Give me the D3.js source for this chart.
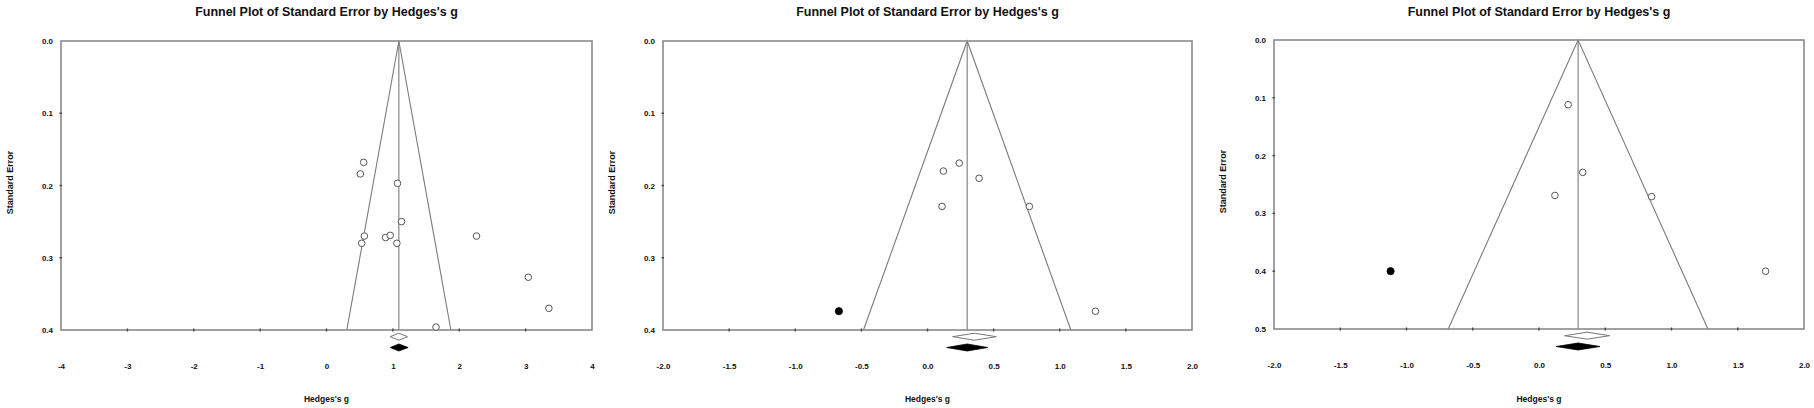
<!DOCTYPE html>
<html>
<head>
<meta charset="utf-8">
<script src="https://cdn.jsdelivr.net/npm/d3@7/dist/d3.min.js"></script>
<style>
  html, body { margin: 0; padding: 0; background: #fff; }
  svg { display: block; font-family: "Liberation Sans", Arial, sans-serif; }
</style>
</head>
<body>
<svg id="chart" width="1814" height="408"></svg>
<script>
// ---------- DATA ----------
const titleText = "Funnel Plot of Standard Error by Hedges's g";
const xLabelText = "Hedges's g";
const yLabelText = "Standard Error";

// Panel 1
const p1_g  = [0.56, 0.51, 1.07, 1.13, 0.57, 0.53, 0.89, 0.96, 1.06, 2.26, 3.04, 3.35, 1.65];
const p1_se = [0.168, 0.184, 0.197, 0.25, 0.27, 0.28, 0.272, 0.269, 0.28, 0.27, 0.327, 0.37, 0.396];
const p1_imp_g  = [];
const p1_imp_se = [];
const p1_center = 1.09;
const p1_observed = [0.96, 1.09, 1.22];
const p1_adjusted = [0.96, 1.09, 1.23];
const p1_xDomain = [-4, 4];
const p1_yDomain = [0, 0.4];
const p1_xTicks = [-4, -3, -2, -1, 0, 1, 2, 3, 4];
const p1_xTickLabels = ["-4", "-3", "-2", "-1", "0", "1", "2", "3", "4"];
const p1_yTicks = [0, 0.1, 0.2, 0.3, 0.4];
const p1_yTickLabels = ["0.0", "0.1", "0.2", "0.3", "0.4"];

// Panel 2
const p2_g  = [0.12, 0.24, 0.39, 0.11, 0.77, 1.27];
const p2_se = [0.18, 0.169, 0.19, 0.229, 0.229, 0.374];
const p2_imp_g  = [-0.67];
const p2_imp_se = [0.374];
const p2_center = 0.30;
const p2_observed = [0.19, 0.355, 0.52];
const p2_adjusted = [0.145, 0.30, 0.455];
const p2_xDomain = [-2, 2];
const p2_yDomain = [0, 0.4];
const p2_xTicks = [-2, -1.5, -1, -0.5, 0, 0.5, 1, 1.5, 2];
const p2_xTickLabels = ["-2.0", "-1.5", "-1.0", "-0.5", "0.0", "0.5", "1.0", "1.5", "2.0"];
const p2_yTicks = [0, 0.1, 0.2, 0.3, 0.4];
const p2_yTickLabels = ["0.0", "0.1", "0.2", "0.3", "0.4"];

// Panel 3
const p3_g  = [0.22, 0.33, 0.12, 0.85, 1.71];
const p3_se = [0.112, 0.229, 0.269, 0.271, 0.40];
const p3_imp_g  = [-1.12];
const p3_imp_se = [0.40];
const p3_center = 0.295;
const p3_observed = [0.193, 0.363, 0.533];
const p3_adjusted = [0.13, 0.295, 0.46];
const p3_xDomain = [-2, 2];
const p3_yDomain = [0, 0.5];
const p3_xTicks = [-2, -1.5, -1, -0.5, 0, 0.5, 1, 1.5, 2];
const p3_xTickLabels = ["-2.0", "-1.5", "-1.0", "-0.5", "0.0", "0.5", "1.0", "1.5", "2.0"];
const p3_yTicks = [0, 0.1, 0.2, 0.3, 0.4, 0.5];
const p3_yTickLabels = ["0.0", "0.1", "0.2", "0.3", "0.4", "0.5"];

// ---------- LAYOUT ----------
const panels = [
  { g: p1_g, se: p1_se, ig: p1_imp_g, ise: p1_imp_se, center: p1_center, obs: p1_observed, adj: p1_adjusted,
    xd: p1_xDomain, yd: p1_yDomain, xt: p1_xTicks, xtl: p1_xTickLabels, yt: p1_yTicks, ytl: p1_yTickLabels,
    left: 61, right: 592, top: 41, bottom: 330 },
  { g: p2_g, se: p2_se, ig: p2_imp_g, ise: p2_imp_se, center: p2_center, obs: p2_observed, adj: p2_adjusted,
    xd: p2_xDomain, yd: p2_yDomain, xt: p2_xTicks, xtl: p2_xTickLabels, yt: p2_yTicks, ytl: p2_yTickLabels,
    left: 663, right: 1192, top: 41, bottom: 330 },
  { g: p3_g, se: p3_se, ig: p3_imp_g, ise: p3_imp_se, center: p3_center, obs: p3_observed, adj: p3_adjusted,
    xd: p3_xDomain, yd: p3_yDomain, xt: p3_xTicks, xtl: p3_xTickLabels, yt: p3_yTicks, ytl: p3_yTickLabels,
    left: 1274, right: 1804, top: 40, bottom: 329 }
];

const svg = d3.select("#chart");
const frameColor = "#8a8a8a";
const lineColor = "#7a7a7a";

panels.forEach(p => {
  const x = d3.scaleLinear().domain(p.xd).range([p.left, p.right]);
  const y = d3.scaleLinear().domain(p.yd).range([p.top, p.bottom]);
  const g = svg.append("g");
  const cx = (p.left + p.right) / 2;

  // title
  g.append("text")
    .attr("x", cx).attr("y", 16)
    .attr("text-anchor", "middle")
    .attr("font-size", "12.5px").attr("font-weight", "bold")
    .attr("fill", "#111")
    .text(titleText);

  // y label
  g.append("text")
    .attr("transform", `translate(${p.left - 48},${(p.top + p.bottom) / 2 - 3}) rotate(-90)`)
    .attr("text-anchor", "middle")
    .attr("font-size", "9px").attr("font-weight", "bold")
    .attr("fill", "#111")
    .text(yLabelText);

  // x label
  g.append("text")
    .attr("x", cx).attr("y", 402)
    .attr("text-anchor", "middle")
    .attr("font-size", "8.5px").attr("font-weight", "bold")
    .attr("fill", "#111")
    .text(xLabelText);

  // funnel
  const ymax = p.yd[1];
  const funnel = [[p.center - 1.96 * ymax, ymax], [p.center, 0], [p.center + 1.96 * ymax, ymax]];
  g.append("path")
    .attr("d", d3.line().x(d => x(d[0])).y(d => y(d[1]))(funnel))
    .attr("fill", "none").attr("stroke", lineColor).attr("stroke-width", 1.1);
  g.append("line")
    .attr("x1", x(p.center)).attr("x2", x(p.center))
    .attr("y1", y(0)).attr("y2", y(ymax))
    .attr("stroke", lineColor).attr("stroke-width", 1.1);

  // frame
  g.append("rect")
    .attr("x", p.left).attr("y", p.top)
    .attr("width", p.right - p.left).attr("height", p.bottom - p.top)
    .attr("fill", "none").attr("stroke", frameColor).attr("stroke-width", 1.6);

  // x tick marks
  g.selectAll(".xtm").data(p.xt.slice(1, -1)).enter().append("line")
    .attr("x1", d => x(d)).attr("x2", d => x(d))
    .attr("y1", p.bottom - 1.5).attr("y2", p.bottom + 1.5)
    .attr("stroke", "#444").attr("stroke-width", 1.4);
  // y tick marks
  g.selectAll(".ytm").data(p.yt.slice(1, -1)).enter().append("line")
    .attr("x1", p.left - 1.5).attr("x2", p.left + 1)
    .attr("y1", d => y(d)).attr("y2", d => y(d))
    .attr("stroke", "#444").attr("stroke-width", 1.4);

  // x tick labels via axis
  const xa = d3.axisBottom(x).tickValues(p.xt).tickSize(0).tickPadding(0)
    .tickFormat((d, i) => p.xtl[i]);
  const xag = g.append("g").attr("transform", `translate(0,${p.bottom + 33})`).call(xa);
  xag.select(".domain").remove();
  xag.selectAll("text").attr("font-size", "8px").attr("font-weight", "bold")
    .attr("font-family", "'Liberation Sans', Arial, sans-serif").attr("fill", "#111");

  // y tick labels via axis
  const ya = d3.axisLeft(y).tickValues(p.yt).tickSize(0).tickPadding(8)
    .tickFormat((d, i) => p.ytl[i]);
  const yag = g.append("g").attr("transform", `translate(${p.left},0)`).call(ya);
  yag.select(".domain").remove();
  yag.selectAll("text").attr("font-size", "8px").attr("font-weight", "bold")
    .attr("font-family", "'Liberation Sans', Arial, sans-serif").attr("fill", "#111");

  // observed points
  g.selectAll(".pt").data(p.g.map((v, i) => [v, p.se[i]])).enter().append("circle")
    .attr("cx", d => x(d[0])).attr("cy", d => y(d[1])).attr("r", 3.3)
    .attr("fill", "#fff").attr("stroke", "#555").attr("stroke-width", 1);

  // imputed points
  g.selectAll(".ip").data(p.ig.map((v, i) => [v, p.ise[i]])).enter().append("circle")
    .attr("cx", d => x(d[0])).attr("cy", d => y(d[1])).attr("r", 3.6)
    .attr("fill", "#000").attr("stroke", "#000").attr("stroke-width", 0.8);

  // diamonds
  const diamond = (est, yc, h) =>
    `M${x(est[0])},${yc} L${x(est[1])},${yc - h} L${x(est[2])},${yc} L${x(est[1])},${yc + h} Z`;
  g.append("path").attr("d", diamond(p.obs, p.bottom + 6.7, 3.5))
    .attr("fill", "#fff").attr("stroke", "#777").attr("stroke-width", 1);
  g.append("path").attr("d", diamond(p.adj, p.bottom + 17.5, 3.5))
    .attr("fill", "#000").attr("stroke", "#000").attr("stroke-width", 0.8);
});
</script>
</body>
</html>
